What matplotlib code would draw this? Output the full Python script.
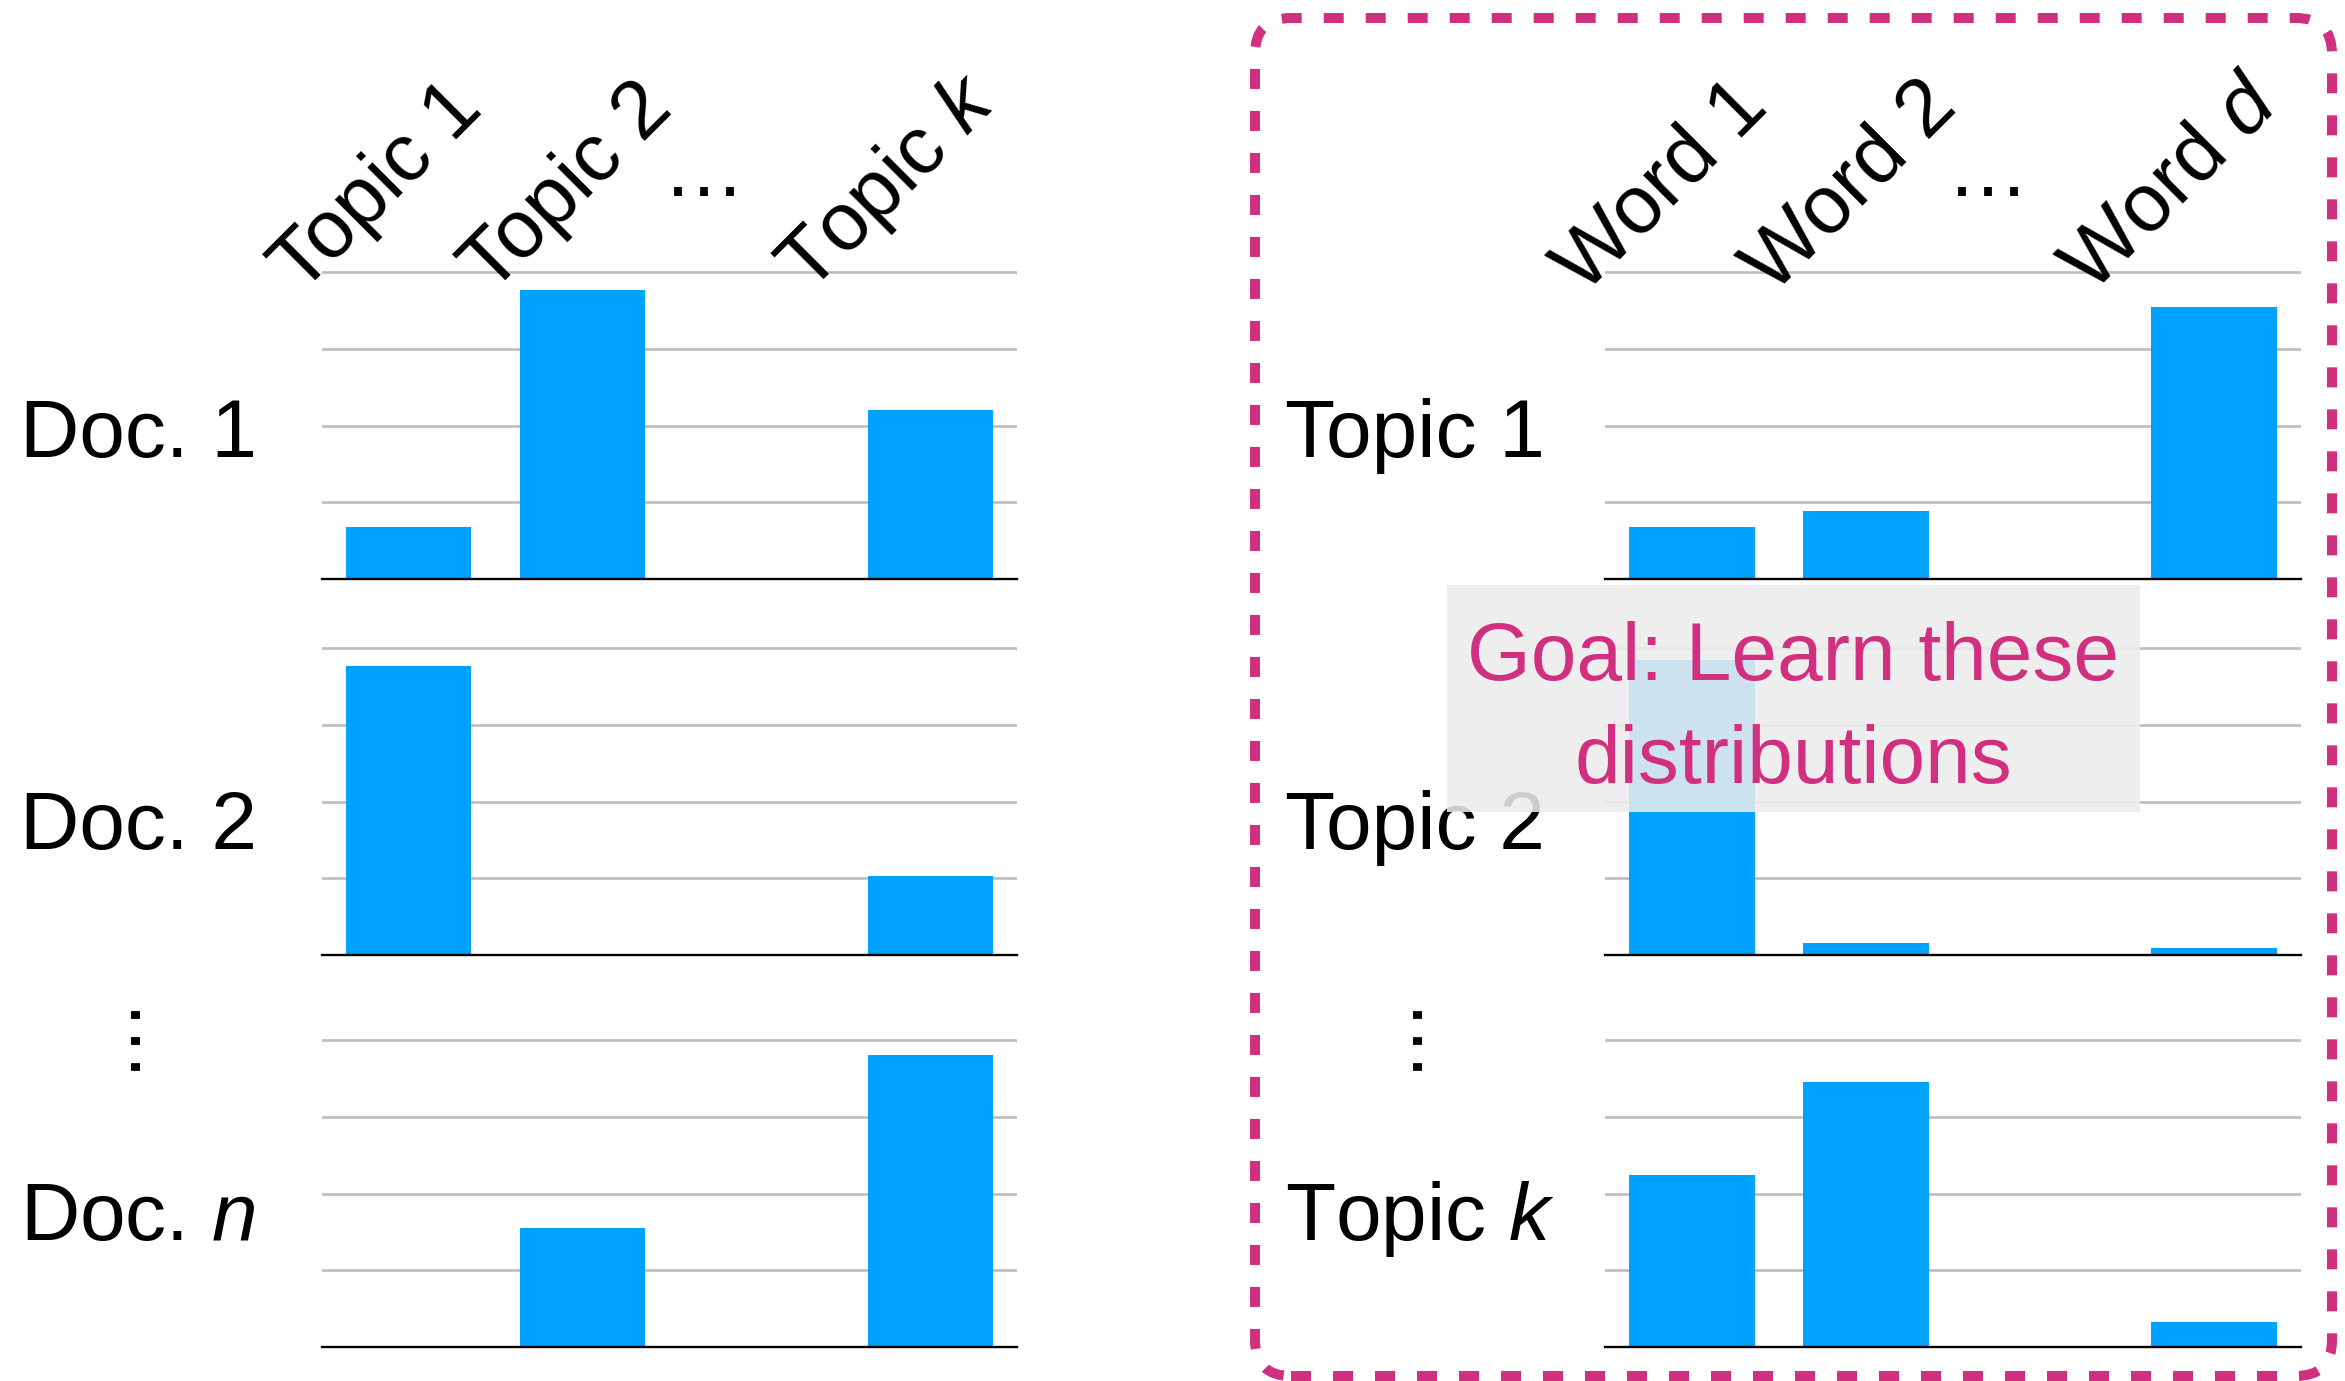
"""Topic-model sketch: document-topic and topic-word distributions as small bar charts."""

import matplotlib
matplotlib.use("Agg")
import matplotlib.pyplot as plt
from matplotlib.patches import FancyBboxPatch, Rectangle
from matplotlib.transforms import blended_transform_factory

FONT = "Liberation Sans"
plt.rcParams["font.family"] = [FONT, "DejaVu Sans"]
plt.rcParams["mathtext.fontset"] = "custom"
plt.rcParams["mathtext.rm"] = FONT
plt.rcParams["mathtext.it"] = f"{FONT}:italic"

BAR = "#00a2ff"
GRID = "#bdbdbd"
MAGENTA = "#d0307f"

# ---- data -----------------------------------------------------------------
topic_labels = ["Topic 1", "Topic 2", "…", "Topic $k$"]
word_labels = ["Word 1", "Word 2", "…", "Word $d$"]
doc_labels = ["Doc. 1", "Doc. 2", "Doc. $n$"]
topic_row_labels = ["Topic 1", "Topic 2", "Topic $k$"]
goal_text = "Goal: Learn these\ndistributions"

# slot 2 is the "…" placeholder -> no bar
doc1_topics = [0.68, 3.76, 0.0, 2.20]
doc2_topics = [3.76, 0.0, 0.0, 1.03]
docn_topics = [0.0, 1.55, 0.0, 3.80]

topic1_words = [0.68, 0.885, 0.0, 3.55]
topic2_words = [3.84, 0.16, 0.0, 0.09]
topick_words = [2.24, 3.45, 0.0, 0.33]

# ---- layout (pixels of a 2345x1381 canvas) ---------------------------------
W, H = 2345, 1381
DPI = 100
fig = plt.figure(figsize=(W / DPI, H / DPI), dpi=DPI)

FS = 59
ROW_TOPS = [272, 648, 1040]
ROW_H = 307
PAD = 3  # keep the top gridline inside the clip box
YMAX = 4.0
LABEL_BASE = [0.394, 0.342, 0.345]  # row label baseline, axes fraction
HEADER_DX = [-0.12, -0.03, 0.0, -0.2]  # nudges of the rotated headers
HEADER_Y = 3.70


def px_axes(x0, x1, top):
    return fig.add_axes([x0 / W, 1 - (top + ROW_H) / H,
                         (x1 - x0) / W, (ROW_H + PAD) / H])


def draw_panel(ax, values):
    ax.bar(range(len(values)), values, width=0.72, color=BAR, zorder=2)
    ax.set_xlim(-0.5, 3.5)
    ax.set_ylim(0, YMAX * (ROW_H + PAD) / ROW_H)
    ax.set_yticks([1, 2, 3, 4])
    ax.yaxis.grid(True, color=GRID, lw=1.9)
    ax.set_axisbelow(True)
    ax.tick_params(left=False, bottom=False, labelleft=False, labelbottom=False)
    for s in ("left", "right", "top"):
        ax.spines[s].set_visible(False)
    ax.spines["bottom"].set_linewidth(1.7)
    ax.spines["bottom"].set_zorder(3)


def draw_group(x0, x1, rows, col_labels, row_labels, label_x, vdots_x):
    axes = []
    for top, vals in zip(ROW_TOPS, rows):
        ax = px_axes(x0, x1, top)
        draw_panel(ax, vals)
        axes.append(ax)

    # rotated column headers above the first panel
    ax0 = axes[0]
    for i, (lab, dx) in enumerate(zip(col_labels, HEADER_DX)):
        if lab == "…":
            ax0.text(i - 0.3, 4.99, lab, fontsize=FS, ha="center",
                     va="baseline", clip_on=False)
        else:
            ax0.text(i - 0.5 + dx, HEADER_Y, lab, fontsize=FS, rotation=45,
                     rotation_mode="anchor", ha="left", va="baseline",
                     clip_on=False)

    # row labels, left aligned in figure x, baseline in axes y
    for ax, lab, yb in zip(axes, row_labels, LABEL_BASE):
        tr = blended_transform_factory(fig.transFigure, ax.transAxes)
        fig.text(label_x / W, yb, lab, fontsize=FS, ha="left",
                 va="baseline", transform=tr)

    fig.text(vdots_x / W, 1 - 1029 / H, "…", fontsize=FS, rotation=90,
             ha="center", va="center")
    return axes


draw_group(322, 1017, [doc1_topics, doc2_topics, docn_topics],
           topic_labels, doc_labels, 20, 109)
draw_group(1605, 2301, [topic1_words, topic2_words, topick_words],
           word_labels, topic_row_labels, 1285, 1391)

# translucent "goal" box
fig.patches.append(Rectangle((1447 / W, 1 - 812 / H), (2140 - 1447) / W,
                             (812 - 585) / H, transform=fig.transFigure,
                             facecolor="#ececec", alpha=0.87, zorder=10,
                             edgecolor="none"))
for line, base in zip(goal_text.split("\n"), [680, 783]):
    fig.text(1793 / W, 1 - base / H, line, fontsize=FS, color=MAGENTA,
             ha="center", va="baseline", zorder=11)

# dashed rounded frame around the topic-word side
frame = FancyBboxPatch((1255 / DPI, 5 / DPI), (2332 - 1255) / DPI,
                       (1363 - 5) / DPI,
                       boxstyle="round,pad=0,rounding_size=0.36",
                       transform=fig.dpi_scale_trans, fill=False,
                       edgecolor=MAGENTA, lw=7.2,
                       linestyle=(0, (2.0, 2.2)), capstyle="butt", zorder=12)
fig.patches.append(frame)

fig.savefig("out.png", dpi=DPI)
